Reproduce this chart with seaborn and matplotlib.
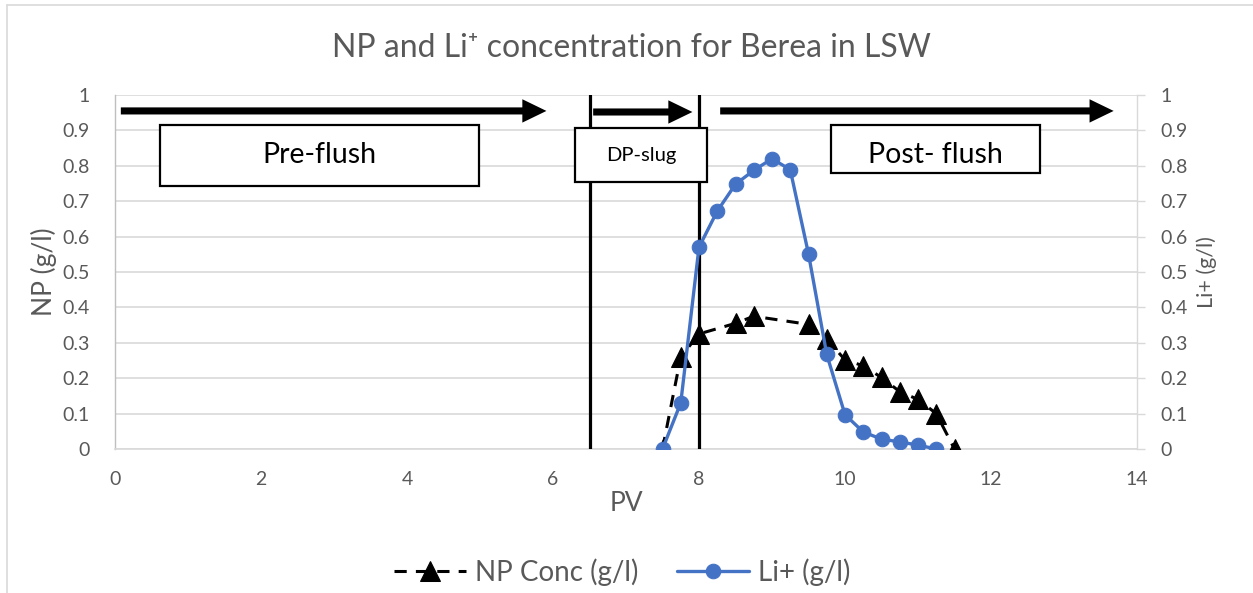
import matplotlib
matplotlib.use("Agg")
import matplotlib.pyplot as plt
from matplotlib.patches import Rectangle
from matplotlib.lines import Line2D
import seaborn as sns
import pandas as pd

# NP breakthrough (g/l) versus pore volumes injected
np_pv = [7.5, 7.75, 8.0, 8.5, 8.75, 9.5, 9.75, 10.0, 10.25, 10.5, 10.75, 11.0, 11.25, 11.5]
np_conc = [0.0, 0.26, 0.325, 0.355, 0.375, 0.352, 0.31, 0.252, 0.235, 0.202, 0.162, 0.14, 0.10, 0.0]

# Li+ tracer (g/l) versus pore volumes injected
li_pv = [7.5, 7.75, 8.0, 8.25, 8.5, 8.75, 9.0, 9.25, 9.5, 9.75, 10.0, 10.25, 10.5, 10.75, 11.0, 11.25]
li_conc = [0.0, 0.13, 0.57, 0.672, 0.748, 0.787, 0.82, 0.789, 0.551, 0.267, 0.097, 0.048, 0.028, 0.02, 0.011, 0.0]

# Injection stages
stage_labels = ["Pre-flush", "DP-slug", "Post- flush"]
stage_bounds = [6.5, 8.0]

x_ticks = [0, 2, 4, 6, 8, 10, 12, 14]
y_ticks = [0, 0.1, 0.2, 0.3, 0.4, 0.5, 0.6, 0.7, 0.8, 0.9, 1]
y_tick_labels = ["0", "0.1", "0.2", "0.3", "0.4", "0.5", "0.6", "0.7", "0.8", "0.9", "1"]

title = "NP and Li\u207a concentration for Berea in LSW"
np_label = "NP Conc (g/l)"
li_label = "Li+ (g/l)"

sns.set_theme(style="white")
plt.rcParams["font.family"] = ["Lato", "DejaVu Sans"]

TXT = "#595959"
GRID = "#d9d9d9"
BLUE = "#4472C4"
TICK_FS = 14

W, H = 1253, 593
fig = plt.figure(figsize=(W / 100, H / 100), dpi=100)
fig.patch.set_facecolor("white")

ax = fig.add_axes([115 / W, 1 - 449 / H, (1137 - 115) / W, (449 - 95) / H])
ax2 = ax.twinx()

np_df = pd.DataFrame({"PV": np_pv, "NP": np_conc})
li_df = pd.DataFrame({"PV": li_pv, "Li": li_conc})

sns.lineplot(data=np_df, x="PV", y="NP", ax=ax, color="black", lw=2.2,
             marker="^", markersize=14, markeredgecolor="black",
             markerfacecolor="black", label=np_label, legend=False, zorder=5)
ax.lines[-1].set_dashes((4, 3))

sns.lineplot(data=li_df, x="PV", y="Li", ax=ax2, color=BLUE, lw=2.4,
             marker="o", markersize=10.5, markeredgecolor=BLUE,
             markerfacecolor=BLUE, label=li_label, legend=False, zorder=5)

for a in (ax, ax2):
    a.set_xlim(0, 14)
    a.set_ylim(0, 1)
    a.set_yticks(y_ticks)
    a.set_yticklabels(y_tick_labels)
    a.set_facecolor("none")
    for s in a.spines.values():
        s.set_visible(False)

ax.set_facecolor("white")
ax2.set_zorder(ax.get_zorder() + 1)

ax.set_xticks(x_ticks)
ax.set_xticklabels([str(v) for v in x_ticks])
ax.tick_params(axis="x", length=0, pad=16, labelsize=TICK_FS, labelcolor=TXT)
ax.tick_params(axis="y", length=0, pad=18, labelsize=TICK_FS, labelcolor=TXT)
ax2.tick_params(axis="y", right=True, length=6, width=1, color=GRID,
                pad=11, labelsize=TICK_FS, labelcolor=TXT)

ax.yaxis.grid(True, color=GRID, lw=1.2)
ax.set_axisbelow(True)
ax.spines["left"].set_visible(True)
ax.spines["left"].set_color("#bfbfbf")
ax.spines["left"].set_linewidth(1)
ax.spines["bottom"].set_visible(True)
ax.spines["bottom"].set_color(GRID)
ax.spines["bottom"].set_linewidth(1.2)
ax2.spines["right"].set_visible(True)
ax2.spines["right"].set_color(GRID)
ax2.spines["right"].set_linewidth(1)

ax.set_xlabel("PV", fontsize=19, color=TXT, labelpad=2)
ax.set_ylabel("NP (g/l)", fontsize=19, color=TXT, labelpad=4)
ax2.set_ylabel(li_label, fontsize=15.5, color=TXT, labelpad=6)

# stage boundaries
for xb in stage_bounds:
    ax.axvline(xb, color="black", lw=2.3, zorder=3)

# flow direction arrows
arrow_kw = dict(width=0.02, head_width=0.066, head_length=0.33,
                length_includes_head=True, fc="black", ec="none", zorder=4)
ax.arrow(0.08, 0.955, 5.83, 0, **arrow_kw)
ax.arrow(6.55, 0.952, 1.36, 0, **arrow_kw)
ax.arrow(8.29, 0.955, 5.39, 0, **arrow_kw)

# stage label boxes
boxes = [(0.616, 0.743, 4.377, 0.172, 20.5), (6.306, 0.755, 1.81, 0.151, 14.5),
         (9.804, 0.779, 2.873, 0.136, 20.5)]
for (bx, by, bw, bh, fs), lab in zip(boxes, stage_labels):
    ax.add_patch(Rectangle((bx, by), bw, bh, facecolor="white",
                           edgecolor="black", lw=1.6, zorder=6))
    ax.text(bx + bw / 2, 0.83, lab, ha="center", va="center",
            fontsize=fs, color="black", zorder=7)

fig.text(631 / W, 1 - 48 / H, title, ha="center", va="center",
         fontsize=23, color=TXT)

h1 = ax.lines[0]
h2 = ax2.lines[0]
leg = fig.legend([h1, h2], [np_label, li_label], loc="center",
                 bbox_to_anchor=(622 / W, 1 - 572 / H), ncol=2, frameon=False,
                 fontsize=20, handlelength=2.6, columnspacing=1.4,
                 handletextpad=0.3, labelcolor=TXT)

# chart area border
fig.add_artist(Line2D([7 / W, 7 / W], [0, 1 - 5 / H], color=GRID, lw=1.2))
fig.add_artist(Line2D([7 / W, 1], [1 - 5 / H, 1 - 5 / H], color=GRID, lw=1.2))

fig.savefig("out.png", dpi=100, facecolor="white")
